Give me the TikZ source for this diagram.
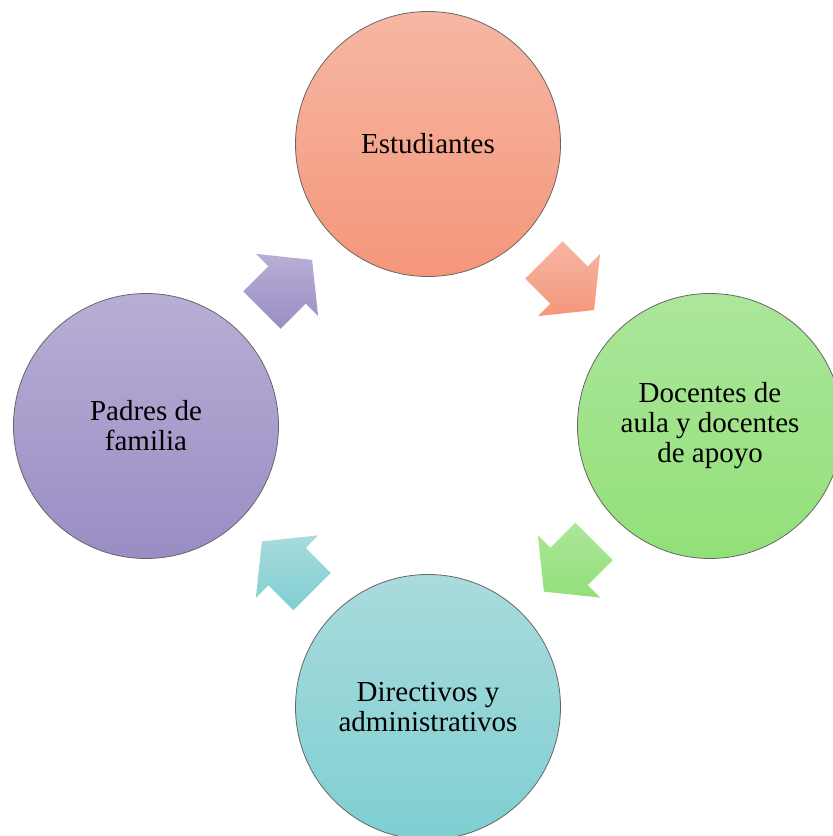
\documentclass[tikz,border=0pt]{standalone}
\usepackage{fontspec}
\setmainfont{Liberation Serif}
\usetikzlibrary{calc}

\definecolor{estTop}{RGB}{246,183,163}
\definecolor{estBot}{RGB}{245,150,122}
\definecolor{docTop}{RGB}{172,230,155}
\definecolor{docBot}{RGB}{146,224,120}
\definecolor{dirTop}{RGB}{170,219,221}
\definecolor{dirBot}{RGB}{126,207,210}
\definecolor{padTop}{RGB}{184,174,213}
\definecolor{padBot}{RGB}{154,141,196}

\begin{document}
\begin{tikzpicture}[
    x=1pt, y=1pt,
    circ/.style={
        circle,
        draw=black!60,
        line width=0.8pt,
        minimum size=265pt,
        inner sep=0pt,
        align=center,
        font=\fontsize{29}{30}\selectfont
    },
    blockarrow/.pic={
        \path[pic actions] (-35.5,26.5) -- (0,26.5) -- (0,44) -- (35.5,0)
            -- (0,-44) -- (0,-26.5) -- (-35.5,-26.5) -- cycle;
    }
]
\useasboundingbox (0,0) rectangle (833,836);

% Nodos
\node[circ, top color=estTop, bottom color=estBot] (est) at (428,692) {Estudiantes};
\node[circ, top color=docTop, bottom color=docBot] (doc) at (710,410) {Docentes de\\aula y docentes\\de apoyo};
\node[circ, top color=dirTop, bottom color=dirBot] (dir) at (428,129) {Directivos y\\administrativos};
\node[circ, top color=padTop, bottom color=padBot] (pad) at (146,410) {Padres de\\familia};

% Flechas
\pic[rotate=-45, top color=estTop, bottom color=estBot] at ($(est)!0.5!(doc)$) {blockarrow};
\pic[rotate=-135, top color=docTop, bottom color=docBot] at ($(doc)!0.5!(dir)$) {blockarrow};
\pic[rotate=135, top color=dirTop, bottom color=dirBot] at ($(dir)!0.5!(pad)$) {blockarrow};
\pic[rotate=45, top color=padTop, bottom color=padBot] at ($(pad)!0.5!(est)$) {blockarrow};

\end{tikzpicture}
\end{document}
